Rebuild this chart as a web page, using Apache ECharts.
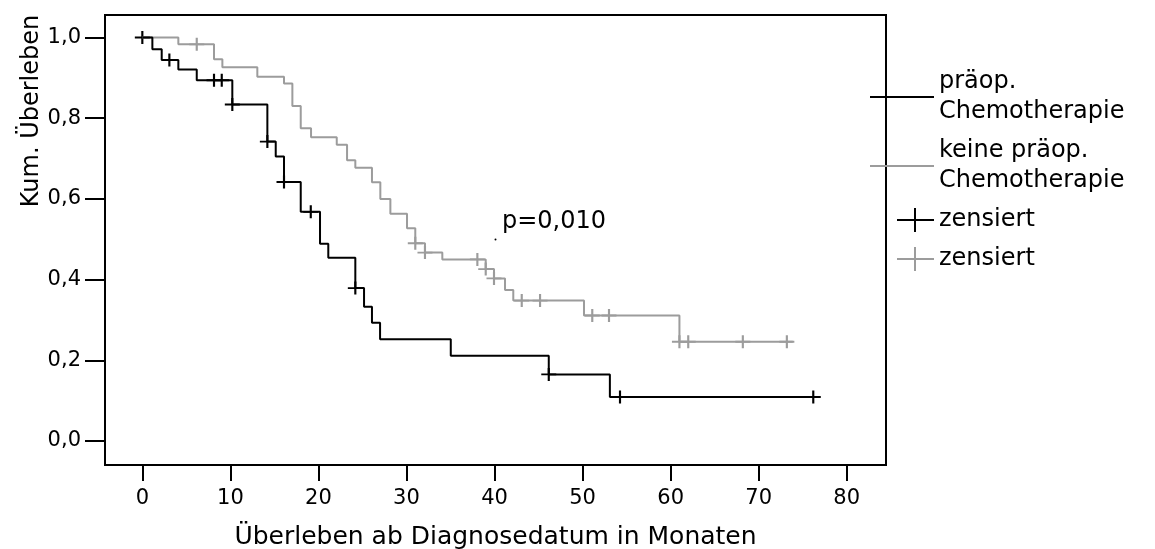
<!DOCTYPE html>
<html>
<head>
<meta charset="utf-8">
<script src="https://cdn.jsdelivr.net/npm/echarts@6/dist/echarts.min.js"></script>
<style>
html, body { margin: 0; padding: 0; background: #fff; }
#chart { width: 1155px; height: 549px; }
</style>
</head>
<body>
<div id="chart"></div>
<script>
// tick positions and labels
const xTicks = [0, 10, 20, 30, 40, 50, 60, 70, 80];
const yTicks = [0, 0.2, 0.4, 0.6, 0.8, 1.0];
const yTickLabels = ['0,0', '0,2', '0,4', '0,6', '0,8', '1,0'];

// präop. Chemotherapie (black): step times and survival after each step
const chemoTimes = [0, 1.14, 2.2, 4.09, 6.18, 10.22, 14.2, 15.15, 16.09, 17.99, 20.18, 21.12, 24.19, 25.18, 26.08, 27.0, 35.03, 46.16, 53.1, 76.85];
const chemoSurv = [1.0, 0.971, 0.944, 0.921, 0.894, 0.834, 0.742, 0.705, 0.642, 0.568, 0.489, 0.454, 0.379, 0.333, 0.293, 0.252, 0.211, 0.165, 0.109, 0.109];
const chemoCensTimes = [0, 3.07, 8.14, 9.02, 10.22, 14.2, 16.09, 19.13, 24.19, 46.16, 54.25, 76.2];
const chemoCensSurv = [1.0, 0.944, 0.894, 0.894, 0.834, 0.742, 0.642, 0.568, 0.379, 0.165, 0.109, 0.109];

// keine präop. Chemotherapie (grey)
const noChemoTimes = [0, 4.09, 8.14, 9.09, 13.06, 16.09, 17.04, 17.99, 19.16, 22.08, 23.25, 24.19, 26.08, 27.03, 28.17, 30.06, 31.0, 32.1, 34.07, 39.0, 39.94, 41.19, 42.13, 50.16, 61.0, 73.87];
const noChemoSurv = [1.0, 0.983, 0.946, 0.926, 0.903, 0.886, 0.830, 0.775, 0.753, 0.734, 0.696, 0.677, 0.641, 0.600, 0.563, 0.527, 0.490, 0.467, 0.450, 0.426, 0.403, 0.374, 0.348, 0.311, 0.246, 0.246];
const noChemoCensTimes = [6.18, 31.0, 32.1, 38.05, 39.0, 39.94, 43.09, 45.17, 51.1, 53.0, 61.0, 62.0, 68.2, 73.2];
const noChemoCensSurv = [0.983, 0.490, 0.467, 0.450, 0.426, 0.403, 0.348, 0.348, 0.311, 0.311, 0.246, 0.246, 0.246, 0.246];

const BLACK = '#000';
const GREY = '#9c9c9c';
const FONT = 'DejaVu Sans';
const CROSS = 'path://M0,6.5 L15,6.5 M7.5,0 L7.5,13';
// legend icons: 64x24 box, lone moves keep the box size
const LEGEND_LINE = 'path://M0,0 M64,24 M0,12 L64,12';
const LEGEND_CROSS = 'path://M0,12 M27,12 L64,12 M45,0 L45,24';

function zip(xs, ys) {
    return xs.map(function (x, i) { return [x, ys[i]]; });
}

function legendStyle(color) {
    return { color: 'transparent', borderColor: color, borderWidth: 2 };
}

const chartDom = document.getElementById('chart');
const myChart = echarts.init(chartDom);

const option = {
    animation: false,
    grid: {
        left: 105,
        right: 269,
        top: 15,
        bottom: 84,
        outerBoundsMode: 'none',
        show: true,
        borderColor: BLACK,
        borderWidth: 2,
        backgroundColor: '#fff'
    },
    xAxis: {
        type: 'value',
        min: -4.24,
        max: 84.46,
        splitLine: { show: false },
        axisLine: { show: false, onZero: false },
        axisTick: { show: true, length: 16, customValues: xTicks, lineStyle: { color: BLACK, width: 2 } },
        axisLabel: { customValues: xTicks, margin: 23, color: BLACK, fontFamily: FONT, fontSize: 21 },
        name: 'Überleben ab Diagnosedatum in Monaten',
        nameLocation: 'middle',
        nameGap: 60,
        nameTextStyle: { color: BLACK, fontFamily: FONT, fontSize: 25 }
    },
    yAxis: {
        type: 'value',
        min: -0.0595,
        max: 1.0558,
        splitLine: { show: false },
        axisLine: { show: false, onZero: false },
        axisTick: { show: true, length: 20, customValues: yTicks, lineStyle: { color: BLACK, width: 2 } },
        axisLabel: {
            customValues: yTicks,
            margin: 24,
            color: BLACK,
            fontFamily: FONT,
            fontSize: 21,
            formatter: function (v) { return yTickLabels[Math.round(v * 5)]; }
        }
    },
    legend: {
        orient: 'vertical',
        left: 869,
        top: 67,
        padding: 0,
        itemGap: 9,
        itemWidth: 64,
        itemHeight: 24,
        selectedMode: false,
        textStyle: { color: BLACK, fontFamily: FONT, fontSize: 24, lineHeight: 30 },
        formatter: function (name) {
            return name.trim().replace(' Chemotherapie', '\nChemotherapie');
        },
        data: [
            { name: 'präop. Chemotherapie', icon: LEGEND_LINE, itemStyle: legendStyle(BLACK) },
            { name: 'keine präop. Chemotherapie', icon: LEGEND_LINE, itemStyle: legendStyle(GREY) },
            { name: 'zensiert', icon: LEGEND_CROSS, itemStyle: legendStyle(BLACK) },
            { name: 'zensiert ', icon: LEGEND_CROSS, itemStyle: legendStyle(GREY) }
        ]
    },
    graphic: [
        {
            type: 'text',
            x: 32,
            y: 111,
            rotation: Math.PI / 2,
            style: { text: 'Kum. Überleben', fill: BLACK, font: '24px "DejaVu Sans"', align: 'center', verticalAlign: 'middle' }
        },
        {
            type: 'text',
            x: 502,
            y: 222,
            style: { text: 'p=0,010', fill: BLACK, font: '24px "DejaVu Sans"', align: 'left', verticalAlign: 'middle' }
        },
        {
            type: 'circle',
            shape: { cx: 495.5, cy: 239.5, r: 1 },
            style: { fill: BLACK }
        }
    ],
    series: [
        {
            name: 'keine präop. Chemotherapie',
            type: 'line',
            step: 'end',
            symbol: 'none',
            silent: true,
            data: zip(noChemoTimes, noChemoSurv),
            lineStyle: { color: GREY, width: 2 },
            itemStyle: { color: GREY }
        },
        {
            name: 'zensiert ',
            type: 'scatter',
            symbol: CROSS,
            symbolSize: [15, 13],
            silent: true,
            data: zip(noChemoCensTimes, noChemoCensSurv),
            itemStyle: { color: 'transparent', borderColor: GREY, borderWidth: 2, opacity: 1 }
        },
        {
            name: 'präop. Chemotherapie',
            type: 'line',
            step: 'end',
            symbol: 'none',
            silent: true,
            data: zip(chemoTimes, chemoSurv),
            lineStyle: { color: BLACK, width: 2 },
            itemStyle: { color: BLACK }
        },
        {
            name: 'zensiert',
            type: 'scatter',
            symbol: CROSS,
            symbolSize: [15, 13],
            silent: true,
            data: zip(chemoCensTimes, chemoCensSurv),
            itemStyle: { color: 'transparent', borderColor: BLACK, borderWidth: 2, opacity: 1 }
        }
    ]
};
myChart.setOption(option);
</script>
</body>
</html>
